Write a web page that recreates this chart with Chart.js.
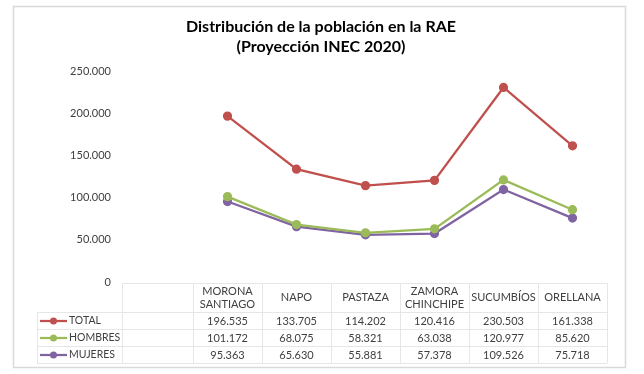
<!DOCTYPE html>
<html>
<head>
<meta charset="utf-8">
<script src="https://cdn.jsdelivr.net/npm/chart.js@4"></script>
<style>
  body { margin: 0; background: #fff; }
</style>
</head>
<body>
<canvas id="chart" width="644" height="374"></canvas>
<script>
// Población por provincia de la RAE (proyección INEC 2020)
const provincias = [["MORONA", "SANTIAGO"], "NAPO", "PASTAZA", ["ZAMORA", "CHINCHIPE"], "SUCUMBÍOS", "ORELLANA"];
const total   = [196535, 133705, 114202, 120416, 230503, 161338];
const hombres = [101172, 68075, 58321, 63038, 120977, 85620];
const mujeres = [95363, 65630, 55881, 57378, 109526, 75718];
const seriesNames = ["TOTAL", "HOMBRES", "MUJERES"];
const titleLines = ["Distribución de la población en la RAE", "(Proyección INEC 2020)"];

const colors = ["#c0504d", "#9bbb59", "#8064a2"];
const FONT = "Lato, 'Liberation Sans', sans-serif";

function fmt(n) {
    return String(n).replace(/\B(?=(\d{3})+(?!\d))/g, ".");
}

/* ---------- Plugins ---------- */

const frame = {
    id: "frame",
    beforeDraw(chart) {
        const ctx = chart.ctx;
        ctx.save();
        ctx.strokeStyle = "#d9d9d9";
        ctx.lineWidth = 1.5;
        ctx.strokeRect(13.5, 6.5, 612, 361);

        ctx.fillStyle = "#000";
        ctx.font = "bold 16px " + FONT;
        ctx.textAlign = "center";
        ctx.textBaseline = "middle";
        ctx.fillText(titleLines[0], 321, 27);
        ctx.fillText(titleLines[1], 321, 47);
        ctx.restore();
    }
};

const dataTable = {
    id: "dataTable",
    afterDraw(chart) {
        const ctx = chart.ctx;
        const area = chart.chartArea;
        const xs = chart.scales.x;
        const colW = area.width / provincias.length;
        const top = area.bottom + 1;
        const headH = 29;
        const rowH = 17;
        const legendLeft = 37;
        const keyLeft = 122;

        ctx.save();
        ctx.strokeStyle = "#e6e6e6";
        ctx.lineWidth = 1;

        // horizontal lines
        ctx.beginPath();
        ctx.moveTo(keyLeft, top + 0.5);
        ctx.lineTo(area.right, top + 0.5);
        for (let r = 0; r <= 3; r++) {
            const y = Math.round(top + headH + r * rowH) + 0.5;
            ctx.moveTo(legendLeft, y);
            ctx.lineTo(area.right, y);
        }
        // vertical lines
        ctx.moveTo(legendLeft + 0.5, top + headH);
        ctx.lineTo(legendLeft + 0.5, top + headH + 3 * rowH);
        ctx.moveTo(keyLeft + 0.5, top);
        ctx.lineTo(keyLeft + 0.5, top + headH + 3 * rowH);
        for (let i = 0; i <= provincias.length; i++) {
            const x = Math.round(area.left + i * colW) + 0.5;
            ctx.moveTo(x, top);
            ctx.lineTo(x, top + headH + 3 * rowH);
        }
        ctx.stroke();

        ctx.fillStyle = "#404040";
        ctx.font = "11px " + FONT;
        ctx.textAlign = "center";
        ctx.textBaseline = "middle";

        // header
        provincias.forEach((p, i) => {
            const cx = xs.getPixelForValue(i);
            if (Array.isArray(p)) {
                ctx.fillText(p[0], cx, top + 8);
                ctx.fillText(p[1], cx, top + 21);
            } else {
                ctx.fillText(p, cx, top + 14);
            }
        });

        // rows
        chart.data.datasets.forEach((ds, r) => {
            const cy = top + headH + r * rowH + rowH / 2 + 0.5;
            ctx.font = "11px " + FONT;
            ds.data.forEach((v, i) => {
                ctx.fillStyle = "#404040";
                ctx.textAlign = "center";
                ctx.fillText(fmt(v), xs.getPixelForValue(i), cy);
            });
            // legend key
            ctx.strokeStyle = ds.borderColor;
            ctx.lineWidth = 2.25;
            ctx.beginPath();
            ctx.moveTo(40, cy);
            ctx.lineTo(67, cy);
            ctx.stroke();
            ctx.fillStyle = ds.borderColor;
            ctx.beginPath();
            ctx.arc(53.5, cy, 3.5, 0, Math.PI * 2);
            ctx.fill();
            ctx.fillStyle = "#404040";
            ctx.textAlign = "left";
            ctx.font = "10.5px " + FONT;
            ctx.fillText(ds.label, 69, cy);
        });
        ctx.restore();
    }
};

/* ---------- Chart ---------- */

const seriesData = [total, hombres, mujeres];

new Chart(document.getElementById("chart"), {
    type: "line",
    data: {
        labels: provincias,
        datasets: seriesData.map((d, i) => ({
            label: seriesNames[i],
            data: d,
            borderColor: colors[i],
            backgroundColor: colors[i],
            pointBackgroundColor: colors[i],
            pointBorderColor: colors[i],
            borderWidth: 2.25,
            pointRadius: 3.5,
            tension: 0
        }))
    },
    options: {
        responsive: false,
        animation: false,
        layout: { padding: { left: 0, right: 37, top: 71, bottom: 92 } },
        plugins: {
            legend: { display: false },
            tooltip: { enabled: false },
            title: { display: false }
        },
        scales: {
            x: { display: false, offset: true },
            y: {
                min: 0,
                max: 250000,
                afterFit: s => {
                    // tick padding would otherwise also push the top of the plot down
                    s.width = 193;
                    s.paddingTop = 0;
                    s.paddingBottom = 0;
                },
                grid: { display: false, drawTicks: false },
                border: { display: false },
                ticks: {
                    stepSize: 50000,
                    padding: 82,
                    color: "#404040",
                    font: { family: FONT, size: 11 },
                    callback: v => fmt(v)
                }
            }
        }
    },
    plugins: [frame, dataTable]
});
</script>
</body>
</html>
